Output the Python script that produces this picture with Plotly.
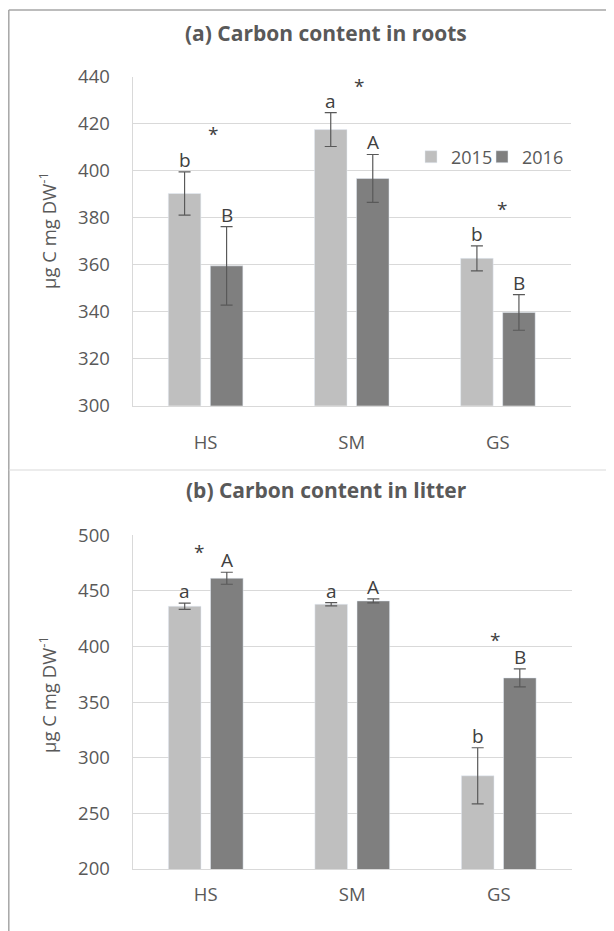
import plotly.graph_objects as go

# ---------------- data ----------------
categories = ["HS", "SM", "GS"]
years = ["2015", "2016"]

roots_2015 = [390.3, 417.5, 362.7]
roots_2015_err = [9.2, 7.2, 5.3]
roots_2016 = [359.5, 396.7, 339.7]
roots_2016_err = [16.7, 10.2, 7.6]

litter_2015 = [436.2, 438.0, 283.8]
litter_2015_err = [2.8, 1.5, 25.2]
litter_2016 = [461.4, 441.0, 371.8]
litter_2016_err = [5.4, 1.8, 8.1]

roots_letters_2015 = ["b", "a", "b"]
roots_letters_2016 = ["B", "A", "B"]
litter_letters_2015 = ["a", "a", "b"]
litter_letters_2016 = ["A", "A", "B"]

roots_star_y = [417.0, 437.5, 385.0]
litter_star_y = [487.0, None, 407.5]

title_a = "<b>(a) Carbon content in roots</b>"
title_b = "<b>(b) Carbon content in litter</b>"
ylabel = "µg C mg DW<sup>-1</sup>"

# ---------------- styling ----------------
OFF = 8                      # page body margin
W, H = 614 - OFF, 931 - OFF  # figure size that fits the window
FONT = "Open Sans"
TXT = "#595959"
C15 = "#BFBFBF"
C16 = "#7F7F7F"
GRID = "#D9D9D9"


def fx(p):
    return (p - OFF) / W


def fy(p):
    return 1 - (p - OFF) / H


fig = go.Figure()

err_style = dict(type="data", color="#595959", thickness=1.2, width=6, visible=True)

fig.add_trace(go.Bar(x=categories, y=roots_2015, name=years[0], marker_color=C15, legend="legend",
                     error_y=dict(array=roots_2015_err, **err_style), xaxis="x", yaxis="y"))
fig.add_trace(go.Bar(x=categories, y=roots_2016, name=years[1], marker_color=C16, legend="legend2",
                     error_y=dict(array=roots_2016_err, **err_style), xaxis="x", yaxis="y"))
fig.add_trace(go.Bar(x=categories, y=litter_2015, name=years[0], marker_color=C15, showlegend=False,
                     error_y=dict(array=litter_2015_err, **err_style), xaxis="x2", yaxis="y2"))
fig.add_trace(go.Bar(x=categories, y=litter_2016, name=years[1], marker_color=C16, showlegend=False,
                     error_y=dict(array=litter_2016_err, **err_style), xaxis="x2", yaxis="y2"))

ann = []
BAR_OFF = 21
LFONT = dict(family=FONT, size=19, color="#404040")


def letters(xref, yref, vals, errs, labs, shift):
    for c, v, e, l in zip(categories, vals, errs, labs):
        ann.append(dict(x=c, y=v + e, xref=xref, yref=yref, text=l, showarrow=False,
                        xshift=shift, yshift=12, yanchor="middle", font=LFONT))


letters("x", "y", roots_2015, roots_2015_err, roots_letters_2015, -BAR_OFF)
letters("x", "y", roots_2016, roots_2016_err, roots_letters_2016, BAR_OFF)
letters("x2", "y2", litter_2015, litter_2015_err, litter_letters_2015, -BAR_OFF)
letters("x2", "y2", litter_2016, litter_2016_err, litter_letters_2016, BAR_OFF)

for c, sy, sh in zip(categories, roots_star_y, [7, 7, 4]):
    if sy is not None:
        ann.append(dict(x=c, y=sy, xref="x", yref="y", text="*", showarrow=False, xshift=sh,
                        yshift=-3, font=LFONT))
for c, sy, sh in zip(categories, litter_star_y, [-7, 0, -4]):
    if sy is not None:
        ann.append(dict(x=c, y=sy, xref="x2", yref="y2", text="*", showarrow=False, xshift=sh,
                        yshift=-2, font=LFONT))

# titles
for t, yy in [(title_a, 33), (title_b, 490)]:
    ann.append(dict(x=fx(326), y=fy(yy), xref="paper", yref="paper", text=t, showarrow=False,
                    xanchor="center", yanchor="middle", font=dict(family=FONT, size=21, color=TXT)))
# y-axis titles
for yy in [231, 695]:
    ann.append(dict(x=fx(47), y=fy(yy), xref="paper", yref="paper", text=ylabel, showarrow=False,
                    textangle=-90, xanchor="center", yanchor="middle",
                    font=dict(family=FONT, size=18.5, color=TXT)))

shapes = [
    dict(type="line", xref="paper", yref="paper", x0=fx(8.8), x1=fx(625), y0=fy(10), y1=fy(10),
         line=dict(color="#A6A6A6", width=1.5)),
    dict(type="line", xref="paper", yref="paper", x0=fx(8.8), x1=fx(8.8), y0=fy(10), y1=fy(945),
         line=dict(color="#A6A6A6", width=1.5)),
    dict(type="line", xref="paper", yref="paper", x0=fx(8.8), x1=fx(625), y0=fy(470), y1=fy(470),
         line=dict(color=GRID, width=1.2)),
]

tickfont = dict(family=FONT, size=18.5, color=TXT)
legfont = dict(family=FONT, size=18, color=TXT)

fig.update_layout(
    width=W, height=H,
    margin=dict(l=0, r=0, t=0, b=0, autoexpand=False),
    paper_bgcolor="white", plot_bgcolor="white",
    barmode="group", bargap=0.425, bargroupgap=0.226,
    showlegend=True,
    legend=dict(orientation="h", x=fx(411), y=fy(157), xanchor="left", yanchor="middle",
                font=legfont, itemwidth=30, bgcolor="rgba(0,0,0,0)"),
    legend2=dict(orientation="h", x=fx(482), y=fy(157), xanchor="left", yanchor="middle",
                 font=legfont, itemwidth=30, bgcolor="rgba(0,0,0,0)"),
    xaxis=dict(domain=[fx(132.5), fx(571)], anchor="y", showline=True, linecolor=GRID,
               ticks="", tickfont=tickfont, ticklabelstandoff=20),
    yaxis=dict(domain=[fy(405.7), fy(76.7)], anchor="x", range=[300, 440], dtick=20,
               showgrid=True, gridcolor=GRID, showline=True, linecolor=GRID, zeroline=False,
               ticks="", tickfont=tickfont, ticklabelstandoff=18),
    xaxis2=dict(domain=[fx(132.5), fx(572)], anchor="y2", showline=True, linecolor=GRID,
                ticks="", tickfont=tickfont, ticklabelstandoff=9),
    yaxis2=dict(domain=[fy(869), fy(535.3)], anchor="x2", range=[200, 500], dtick=50,
                showgrid=True, gridcolor=GRID, showline=True, linecolor=GRID, zeroline=False,
                ticks="", tickfont=tickfont, ticklabelstandoff=18),
    annotations=ann,
    shapes=shapes,
    font=dict(family=FONT, color=TXT),
)

fig.write_html("out.html")
